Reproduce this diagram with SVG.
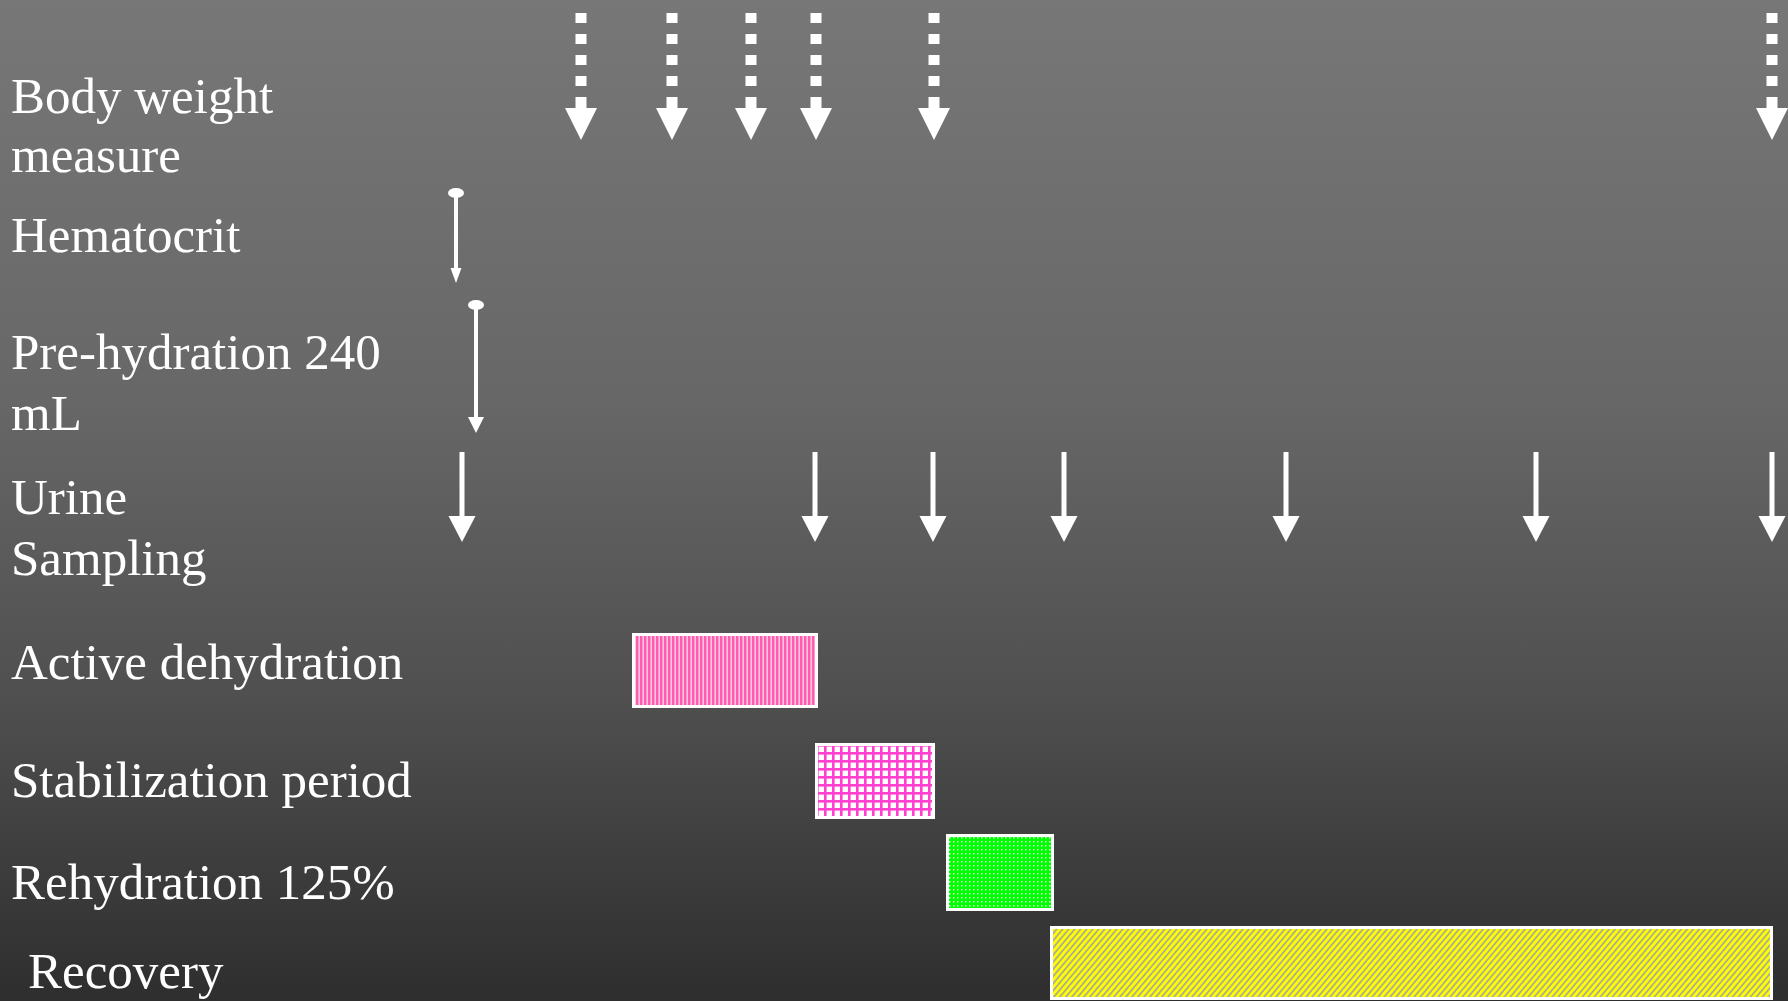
<svg xmlns="http://www.w3.org/2000/svg" width="1788" height="1001" viewBox="0 0 1788 1001">
<defs>
<linearGradient id="bg" x1="0" y1="0" x2="0" y2="1">
<stop offset="0" stop-color="#777777"/>
<stop offset="0.4" stop-color="#676767"/>
<stop offset="0.7" stop-color="#4f4f4f"/>
<stop offset="1" stop-color="#2e2e2e"/>
</linearGradient>
<pattern id="pVert" width="4" height="10" patternUnits="userSpaceOnUse">
<rect width="4" height="10" fill="#ffc6e3"/>
<rect x="0" width="2.4" height="10" fill="#ff5cb0"/>
</pattern>
<pattern id="pGrid" width="8" height="8" patternUnits="userSpaceOnUse">
<rect width="8" height="8" fill="#ffffff"/>
<rect x="0" y="0" width="2.6" height="8" fill="#ff3fcf"/>
<rect x="0" y="0" width="8" height="2.6" fill="#ff3fcf"/>
</pattern>
<pattern id="pDots" width="4" height="4" patternUnits="userSpaceOnUse">
<rect width="4" height="4" fill="#00ff00"/>
<rect x="1" y="1" width="1.5" height="1.5" fill="#d8ffd8"/>
</pattern>
<pattern id="pDiag" width="4.6" height="10" patternUnits="userSpaceOnUse" patternTransform="rotate(40)">
<rect width="4.6" height="10" fill="#a8a898"/>
<rect width="2.9" height="10" fill="#ffff00"/>
</pattern>
</defs>
<style>
.lbl { font-family: "Liberation Serif", "Times New Roman", serif; font-size: 51px; fill: #ffffff; }
.bar { stroke: #ffffff; stroke-width: 3; }
.w { fill: #ffffff; }
.ln { stroke: #ffffff; fill: none; }
</style>
<rect width="1788" height="1001" fill="url(#bg)"/>

<g id="connectors">
<g id="bw-arrows" class="w">
<g id="bw1" transform="translate(581 0)"><rect x="-5.5" y="13" width="11" height="10"/><rect x="-5.5" y="34" width="11" height="10"/><rect x="-5.5" y="55" width="11" height="10"/><rect x="-5.5" y="76" width="11" height="10"/><rect x="-5.5" y="97" width="11" height="12"/><polygon points="-16,108 16,108 0,140"/></g>
<g id="bw2" transform="translate(672 0)"><rect x="-5.5" y="13" width="11" height="10"/><rect x="-5.5" y="34" width="11" height="10"/><rect x="-5.5" y="55" width="11" height="10"/><rect x="-5.5" y="76" width="11" height="10"/><rect x="-5.5" y="97" width="11" height="12"/><polygon points="-16,108 16,108 0,140"/></g>
<g id="bw3" transform="translate(751 0)"><rect x="-5.5" y="13" width="11" height="10"/><rect x="-5.5" y="34" width="11" height="10"/><rect x="-5.5" y="55" width="11" height="10"/><rect x="-5.5" y="76" width="11" height="10"/><rect x="-5.5" y="97" width="11" height="12"/><polygon points="-16,108 16,108 0,140"/></g>
<g id="bw4" transform="translate(816 0)"><rect x="-5.5" y="13" width="11" height="10"/><rect x="-5.5" y="34" width="11" height="10"/><rect x="-5.5" y="55" width="11" height="10"/><rect x="-5.5" y="76" width="11" height="10"/><rect x="-5.5" y="97" width="11" height="12"/><polygon points="-16,108 16,108 0,140"/></g>
<g id="bw5" transform="translate(934 0)"><rect x="-5.5" y="13" width="11" height="10"/><rect x="-5.5" y="34" width="11" height="10"/><rect x="-5.5" y="55" width="11" height="10"/><rect x="-5.5" y="76" width="11" height="10"/><rect x="-5.5" y="97" width="11" height="12"/><polygon points="-16,108 16,108 0,140"/></g>
<g id="bw6" transform="translate(1772 0)"><rect x="-5.5" y="13" width="11" height="10"/><rect x="-5.5" y="34" width="11" height="10"/><rect x="-5.5" y="55" width="11" height="10"/><rect x="-5.5" y="76" width="11" height="10"/><rect x="-5.5" y="97" width="11" height="12"/><polygon points="-16,108 16,108 0,140"/></g>
</g>
<g id="hct-arrow">
<ellipse class="w" cx="456" cy="193" rx="8" ry="5"/>
<line class="ln" x1="456" y1="193" x2="456" y2="270" stroke-width="4"/>
<polygon class="w" points="450.5,268 461.5,268 456,283"/>
</g>
<g id="prehyd-arrow">
<ellipse class="w" cx="476" cy="305" rx="8" ry="5"/>
<line class="ln" x1="476" y1="305" x2="476" y2="419" stroke-width="4"/>
<polygon class="w" points="468,417 484,417 476,433"/>
</g>
<g id="urine-arrows" class="w">
<g transform="translate(462 0)"><rect x="-2.5" y="452" width="5" height="66"/><polygon points="-13.5,516 13.5,516 0,542"/></g>
<g transform="translate(815 0)"><rect x="-2.5" y="452" width="5" height="66"/><polygon points="-13.5,516 13.5,516 0,542"/></g>
<g transform="translate(933 0)"><rect x="-2.5" y="452" width="5" height="66"/><polygon points="-13.5,516 13.5,516 0,542"/></g>
<g transform="translate(1064 0)"><rect x="-2.5" y="452" width="5" height="66"/><polygon points="-13.5,516 13.5,516 0,542"/></g>
<g transform="translate(1286 0)"><rect x="-2.5" y="452" width="5" height="66"/><polygon points="-13.5,516 13.5,516 0,542"/></g>
<g transform="translate(1536 0)"><rect x="-2.5" y="452" width="5" height="66"/><polygon points="-13.5,516 13.5,516 0,542"/></g>
<g transform="translate(1772 0)"><rect x="-2.5" y="452" width="5" height="66"/><polygon points="-13.5,516 13.5,516 0,542"/></g>
</g>
</g>

<g id="label-body-weight"><text class="lbl" x="11" y="113">Body weight</text><text class="lbl" x="11" y="172">measure</text></g>
<g id="label-hematocrit"><text class="lbl" x="11" y="252">Hematocrit</text></g>
<g id="label-prehydration"><text class="lbl" x="11" y="369">Pre-hydration 240</text><text class="lbl" x="11" y="430">mL</text></g>
<g id="label-urine"><text class="lbl" x="11" y="514">Urine</text><text class="lbl" x="11" y="575">Sampling</text></g>

<g id="active-dehydration">
<text class="lbl" x="11" y="679">Active dehydration</text>
<rect class="bar" x="633.5" y="634.5" width="183" height="72" fill="url(#pVert)"/>
</g>
<g id="stabilization">
<text class="lbl" x="11" y="797">Stabilization period</text>
<rect class="bar" x="816.5" y="744.5" width="117" height="73" fill="url(#pGrid)"/>
</g>
<g id="rehydration">
<text class="lbl" x="11" y="899">Rehydration 125%</text>
<rect class="bar" x="947.5" y="835.5" width="105" height="74" fill="url(#pDots)"/>
</g>
<g id="recovery">
<text class="lbl" x="28" y="988">Recovery</text>
<rect class="bar" x="1051.5" y="927.5" width="720" height="71" fill="url(#pDiag)"/>
</g>
</svg>
